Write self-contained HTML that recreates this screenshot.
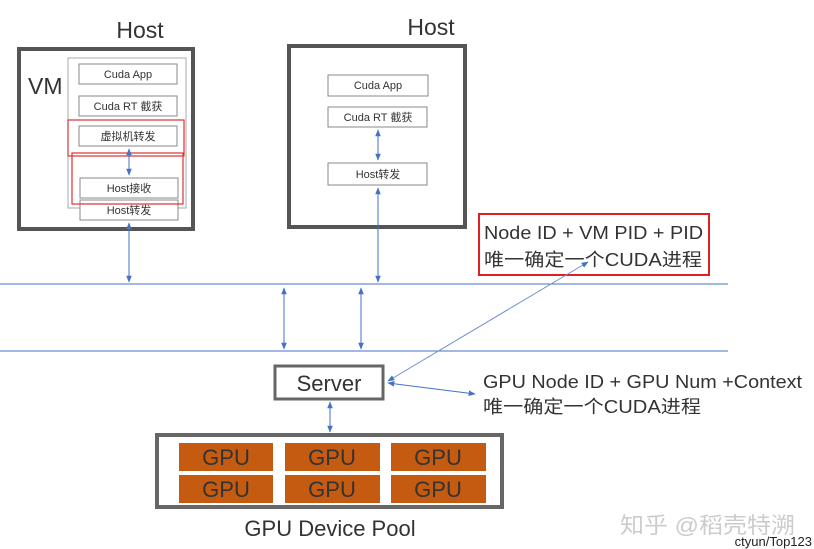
<!DOCTYPE html>
<html><head><meta charset="utf-8"><style>
body{margin:0;background:#fff;}
svg{display:block;}
text{font-family:"Liberation Sans","Noto Sans CJK SC",sans-serif;fill:#333;}
</style></head><body>
<svg width="814" height="549" viewBox="0 0 814 549" xmlns="http://www.w3.org/2000/svg">
<defs>
<marker id="a" viewBox="0 0 10 10" refX="9" refY="5" markerWidth="7" markerHeight="7" orient="auto-start-reverse"><path d="M0,1 L10,5 L0,9 z" fill="#4472c4"/></marker>
</defs>
<text x="140" y="38" font-size="23" text-anchor="middle">Host</text>
<rect x="19" y="49" width="174" height="180" fill="none" stroke="#555" stroke-width="4"/>
<text x="28" y="94" font-size="23">VM</text>
<rect x="68" y="58" width="118" height="150" fill="#fff" stroke="#aaa" stroke-width="1"/>
<g font-size="11" text-anchor="middle">
<rect x="79" y="64" width="98" height="20" fill="#fff" stroke="#888"/><text x="128" y="78">Cuda App</text>
<rect x="79" y="96" width="98" height="20" fill="#fff" stroke="#888"/><text x="128" y="110">Cuda RT 截获</text>
<rect x="79" y="126" width="98" height="20" fill="#fff" stroke="#888"/><text x="128" y="140">虚拟机转发</text>
<rect x="80" y="178" width="98" height="20" fill="#fff" stroke="#888"/><text x="129" y="192">Host接收</text>
<rect x="80" y="200" width="98" height="20" fill="#fff" stroke="#888"/><text x="129" y="214">Host转发</text>
</g>
<rect x="68" y="120" width="116" height="36" fill="none" stroke="#d33" stroke-width="1.2"/>
<rect x="72" y="153" width="111" height="51" fill="none" stroke="#d33" stroke-width="1.2"/>
<line x1="129" y1="149" x2="129" y2="175" stroke="#4472c4" marker-start="url(#a)" marker-end="url(#a)"/>
<line x1="129" y1="223" x2="129" y2="282" stroke="#4472c4" marker-start="url(#a)" marker-end="url(#a)"/>
<text x="431" y="35" font-size="23" text-anchor="middle">Host</text>
<rect x="289" y="46" width="176" height="181" fill="none" stroke="#555" stroke-width="4"/>
<g font-size="11" text-anchor="middle">
<rect x="328" y="75" width="100" height="21" fill="#fff" stroke="#888"/><text x="378" y="89">Cuda App</text>
<rect x="328" y="107" width="99" height="20" fill="#fff" stroke="#888"/><text x="378" y="121">Cuda RT 截获</text>
<rect x="328" y="163" width="99" height="22" fill="#fff" stroke="#888"/><text x="378" y="178">Host转发</text>
</g>
<line x1="378" y1="130" x2="378" y2="160" stroke="#4472c4" marker-start="url(#a)" marker-end="url(#a)"/>
<line x1="378" y1="188" x2="378" y2="282" stroke="#4472c4" marker-start="url(#a)" marker-end="url(#a)"/>
<line x1="0" y1="284" x2="728" y2="284" stroke="#4472c4" stroke-width="1"/>
<line x1="0" y1="351" x2="728" y2="351" stroke="#4472c4" stroke-width="1"/>
<line x1="284" y1="288" x2="284" y2="349" stroke="#4472c4" marker-start="url(#a)" marker-end="url(#a)"/>
<line x1="361" y1="288" x2="361" y2="349" stroke="#4472c4" marker-start="url(#a)" marker-end="url(#a)"/>
<rect x="479" y="214" width="230" height="61" fill="#fff" stroke="#e02020" stroke-width="2"/>
<text x="484" y="239" font-size="18" textLength="219" lengthAdjust="spacingAndGlyphs">Node ID + VM PID + PID</text>
<text x="484" y="266" font-size="18" textLength="218" lengthAdjust="spacingAndGlyphs">唯一确定一个CUDA进程</text>
<line x1="588" y1="262" x2="388" y2="381" stroke="#6f8fd0" stroke-width="1" marker-start="url(#a)" marker-end="url(#a)"/>
<rect x="275" y="366" width="108" height="33" fill="#fff" stroke="#666" stroke-width="3"/>
<text x="329" y="391" font-size="22" text-anchor="middle">Server</text>
<line x1="388" y1="383" x2="475" y2="394" stroke="#4472c4" marker-start="url(#a)" marker-end="url(#a)"/>
<text x="483" y="388" font-size="18" textLength="319" lengthAdjust="spacingAndGlyphs">GPU Node ID + GPU Num +Context</text>
<text x="483" y="413" font-size="18" textLength="218" lengthAdjust="spacingAndGlyphs">唯一确定一个CUDA进程</text>
<line x1="330" y1="402" x2="330" y2="432" stroke="#4472c4" marker-start="url(#a)" marker-end="url(#a)"/>
<rect x="157" y="435" width="345" height="72" fill="none" stroke="#666" stroke-width="4"/>
<g fill="#c55a11">
<rect x="179" y="443" width="94" height="28"/><rect x="285" y="443" width="95" height="28"/><rect x="391" y="443" width="95" height="28"/>
<rect x="179" y="475" width="94" height="28"/><rect x="285" y="475" width="95" height="28"/><rect x="391" y="475" width="95" height="28"/>
</g>
<g font-size="22" text-anchor="middle">
<text x="226" y="465">GPU</text><text x="332" y="465">GPU</text><text x="438" y="465">GPU</text>
<text x="226" y="497">GPU</text><text x="332" y="497">GPU</text><text x="438" y="497">GPU</text>
</g>
<text x="330" y="536" font-size="22" text-anchor="middle">GPU Device Pool</text>
<text x="620" y="533" font-size="22" style="fill:#ccc" textLength="175" lengthAdjust="spacingAndGlyphs">知乎 @稻壳特溯</text>
<text x="812" y="546" font-size="13" text-anchor="end" style="fill:#222">ctyun/Top123</text>
</svg>
</body></html>
